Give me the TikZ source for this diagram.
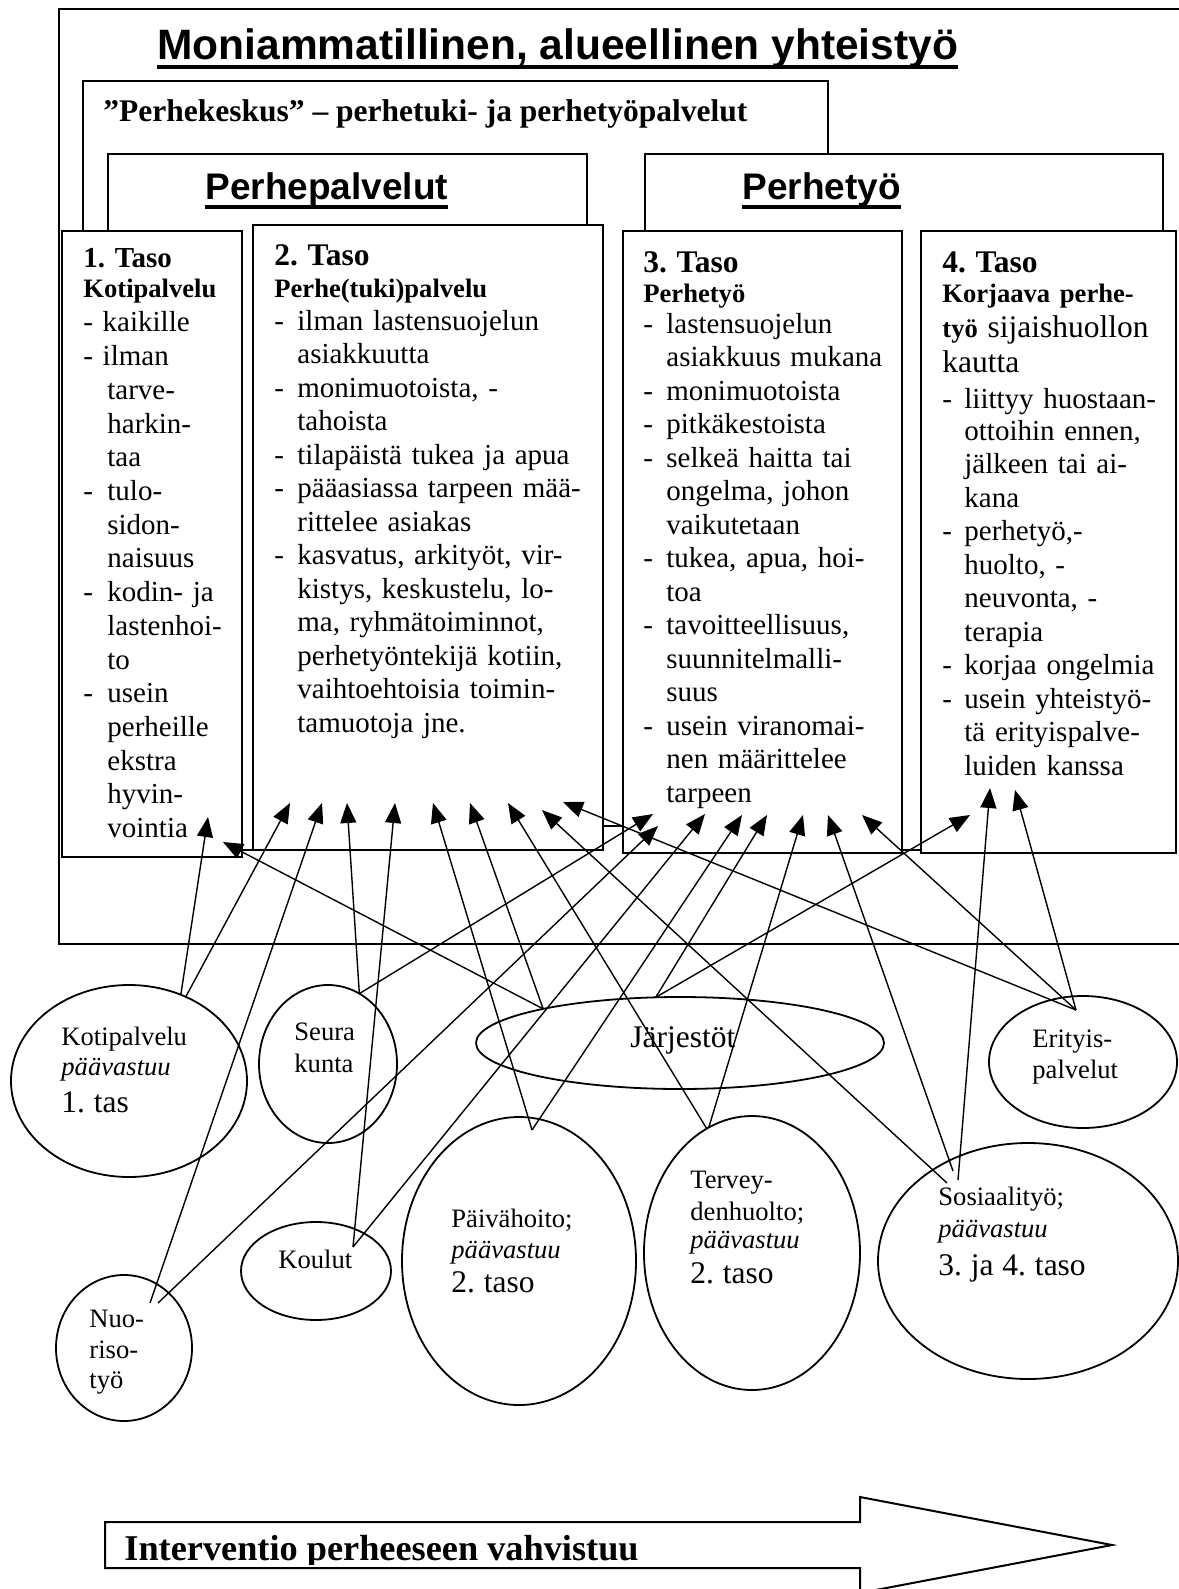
\documentclass[tikz,border=0pt]{standalone}
\usepackage{fontspec}
\setmainfont{Liberation Serif}
\newfontfamily\headfont{Liberation Sans}
\usetikzlibrary{positioning, fit, shapes.geometric, arrows.meta}
\newcommand{\fs}[2]{\fontsize{#1}{#2}\selectfont}
\newcommand{\dsh}[1]{\makebox[#1][l]{-}}
\frenchspacing

\begin{document}
\begin{tikzpicture}[
         x = 0.5pt, y = -0.5pt,
       box/.style = {rectangle, draw, fill=white, inner sep=0pt, line width=1pt},
       ell/.style = {ellipse, draw, fill=white, inner sep=0pt, outer sep=0pt, line width=0.9pt},
       txt/.style = {inner sep=0pt, anchor=base west, align=left, text width=#1},
       txt/.default = 100pt,
       lbl/.style = {inner sep=0pt, anchor=base west},
       arr/.style = {-{Triangle[length=10pt, width=8pt]}, line width=0.7pt}
                        ]
\useasboundingbox (0,0) rectangle (1178,1589);

\draw[line width=1pt] (59,9) rectangle (1200,944);
\node (title)[lbl, font=\headfont\bfseries\fs{21.25}{25}] at (157,60) {Moniammatillinen, alueellinen yhteistyö};
\draw[line width=1.8pt] ([yshift=-3.5pt]title.base west) -- ([yshift=-3.5pt]title.base east);

\node (keskusbox)[box, fit={(83,81) (828,826)}] {};
\node (keskus)[lbl, font=\bfseries\fs{15.75}{18}] at (103,122) {”Perhekeskus” – perhetuki- ja perhetyöpalvelut};

\node (palvbox)[box, fit={(108,154) (587,850)}] {};
\node (palv)[lbl, font=\headfont\bfseries\fs{18.5}{22}] at (205,200) {Perhepalvelut};
\draw[line width=1.6pt] ([yshift=-3.5pt]palv.base west) -- ([yshift=-3.5pt]palv.base east);

\node (tyobox)[box, fit={(645,154) (1163,850)}] {};
\node (tyo)[lbl, font=\headfont\bfseries\fs{18.5}{22}] at (742,200) {Perhetyö};
\draw[line width=1.6pt] ([yshift=-3.5pt]tyo.base west) -- ([yshift=-3.5pt]tyo.base east);

\node (taso1)[box, fit={(62,231) (242,857)}] {};
\node (taso2)[box, fit={(253,225) (603,850)}] {};
\node (taso3)[box, fit={(623,231) (902,853)}] {};
\node (taso4)[box, fit={(921,231) (1176,853)}] {};

\node (t1)[txt=85pt, font=\fs{14.5}{16.85}] at (83,268) {%
{\bfseries 1. Taso}\\[-1.85pt]
{\fs{13.3}{16}\bfseries Kotipalvelu}\\[0.15pt]
- kaikille\\
- ilman\\
\hspace*{12pt}tarve-\\
\hspace*{12pt}harkin-\\
\hspace*{12pt}taa\\
\dsh{12pt}tulo-\\
\hspace*{12pt}sidon-\\
\hspace*{12pt}naisuus\\
\dsh{12pt}kodin- ja\\
\hspace*{12pt}lastenhoi-\\
\hspace*{12pt}to\\
\dsh{12pt}usein\\
\hspace*{12pt}perheille\\
\hspace*{12pt}ekstra\\
\hspace*{12pt}hyvin-\\
\hspace*{12pt}vointia};

\node (t2)[txt=160pt, font=\fs{14.5}{16.75}] at (274,265) {%
{\fs{15.75}{16.75}\bfseries 2. Taso}\\[-0.75pt]
{\fs{13.3}{16}\bfseries Perhe(tuki)palvelu}\\[-0.25pt]
\dsh{11.5pt}ilman lastensuojelun\\
\hspace*{11.5pt}asiakkuutta\\
\dsh{11.5pt}monimuotoista, -\\
\hspace*{11.5pt}tahoista\\
\dsh{11.5pt}tilapäistä tukea ja apua\\
\dsh{11.5pt}pääasiassa tarpeen mää-\\
\hspace*{11.5pt}rittelee asiakas\\
\dsh{11.5pt}kasvatus, arkityöt, vir-\\
\hspace*{11.5pt}kistys, keskustelu, lo-\\
\hspace*{11.5pt}ma, ryhmätoiminnot,\\
\hspace*{11.5pt}perhetyöntekijä kotiin,\\
\hspace*{11.5pt}vaihtoehtoisia toimin-\\
\hspace*{11.5pt}tamuotoja jne.};

\node (t3)[txt=130pt, font=\fs{14.5}{16.75}] at (643,272) {%
{\fs{15.75}{16.75}\bfseries 3. Taso}\\[-1.75pt]
{\fs{13.3}{16}\bfseries Perhetyö}\\[-1.25pt]
\dsh{11.5pt}lastensuojelun\\
\hspace*{11.5pt}asiakkuus mukana\\
\dsh{11.5pt}monimuotoista\\
\dsh{11.5pt}pitkäkestoista\\
\dsh{11.5pt}selkeä haitta tai\\
\hspace*{11.5pt}ongelma, johon\\
\hspace*{11.5pt}vaikutetaan\\
\dsh{11.5pt}tukea, apua, hoi-\\
\hspace*{11.5pt}toa\\
\dsh{11.5pt}tavoitteellisuus,\\
\hspace*{11.5pt}suunnitelmalli-\\
\hspace*{11.5pt}suus\\
\dsh{11.5pt}usein viranomai-\\
\hspace*{11.5pt}nen määrittelee\\
\hspace*{11.5pt}tarpeen};

\node (t4)[txt=125pt, font=\fs{14.5}{16.75}] at (942,272) {%
{\fs{15.75}{16.75}\bfseries 4. Taso}\\[-1.75pt]
{\fs{13.3}{16}\bfseries Korjaava perhe-}\\[0.75pt]
{\fs{13.3}{16}\bfseries työ} {\fs{15.75}{16.75}sijaishuollon}\\[0.75pt]
{\fs{15.75}{16.75}kautta}\\[1.25pt]
\dsh{11pt}liittyy huostaan-\\[-0.75pt]
\hspace*{11pt}ottoihin ennen,\\
\hspace*{11pt}jälkeen tai ai-\\
\hspace*{11pt}kana\\
\dsh{11pt}perhetyö,-\\
\hspace*{11pt}huolto, -\\
\hspace*{11pt}neuvonta, -\\
\hspace*{11pt}terapia\\
\dsh{11pt}korjaa ongelmia\\
\dsh{11pt}usein yhteistyö-\\
\hspace*{11pt}tä erityispalve-\\
\hspace*{11pt}luiden kanssa};

\node (kp)[ell, minimum width=118pt, minimum height=96pt] at (129,1081) {};
\node (seura)[ell, minimum width=69pt, minimum height=79pt] at (328,1064) {};
\node (jarj)[ell, minimum width=204pt, minimum height=46pt] at (680,1043) {};
\node (erit)[ell, minimum width=94pt, minimum height=66pt] at (1083,1062) {};
\node (koulut)[ell, minimum width=75pt, minimum height=49pt] at (316,1271) {};
\node (nuor)[ell, minimum width=68pt, minimum height=73pt] at (124,1348) {};
\node (paiva)[ell, minimum width=117pt, minimum height=144pt] at (519,1261) {};
\node (terv)[ell, minimum width=108pt, minimum height=137pt] at (752,1253) {};
\node (sos)[ell, minimum width=150pt, minimum height=118pt] at (1028,1261) {};

\node (kpl)[txt=80pt, font=\fs{13.3}{15.5}] at (61,1045) {Kotipalvelu\\[-0.5pt] \textit{päävastuu}\\[3pt] {\fs{15.75}{17}1. tas}};
\node (seural)[txt=40pt, font=\fs{13.3}{15.5}] at (294,1040) {Seura\\[0.5pt] kunta};
\node (jarjl)[lbl, font=\fs{15.75}{17}] at (630,1047) {Järjestöt};
\node (eritl)[txt=60pt, font=\fs{13.3}{15.5}] at (1032,1047) {Erityis-\\ palvelut};
\node (koulutl)[lbl, font=\fs{13.3}{15.5}] at (278,1268) {Koulut};
\node (nuorl)[txt=40pt, font=\fs{13.3}{15.5}] at (89,1327) {Nuo-\\ riso-\\[-0.5pt] työ};
\node (paival)[txt=80pt, font=\fs{13.3}{15.5}] at (451,1227) {Päivähoito;\\ \textit{päävastuu}\\[1.5pt] {\fs{15.75}{17}2. taso}};
\node (tervl)[txt=80pt, font=\fs{13.3}{15.5}] at (690,1188) {Tervey-\\[0.5pt] denhuolto;\\[-1.5pt] \textit{päävastuu}\\[2pt] {\fs{15.75}{17}2. taso}};
\node (sosl)[txt=90pt, font=\fs{13.3}{15.5}] at (938,1205) {Sosiaalityö;\\[0.5pt] \textit{päävastuu}\\[3.5pt] {\fs{15.75}{17}3. ja 4. taso}};

\coordinate (e1a) at (208,817);
\coordinate (e1b) at (223,842);
\coordinate (e2a) at (290,803);
\coordinate (e2b) at (322,803);
\coordinate (e2c) at (347,803);
\coordinate (e2d) at (395,803);
\coordinate (e2e) at (433,803);
\coordinate (e2f) at (470,803);
\coordinate (e2g) at (508,803);
\coordinate (e2h) at (542,810);
\coordinate (e2i) at (563,802);
\coordinate (e3a) at (653,814);
\coordinate (e3b) at (658,826);
\coordinate (e3c) at (705,814);
\coordinate (e3d) at (742,815);
\coordinate (e3e) at (767,815);
\coordinate (e3f) at (803,815);
\coordinate (e3g) at (828,815);
\coordinate (e3h) at (862,815);
\coordinate (e4a) at (970,815);
\coordinate (e4b) at (990,788);
\coordinate (e4c) at (1015,790);

\draw[arr] (kp.59) -- (e1a);
\draw[arr] (kp.56) -- (e2a);
\draw[arr] (seura.66) -- (e2c);
\draw[arr] (seura.66) -- (e3a);
\draw[arr] ([shift={(26,-45)}]nuor.center) -- (e2b);
\draw[arr] ([shift={(34,-45)}]nuor.center) -- (e3b);
\draw[arr] ([shift={(37,-24)}]koulut.center) -- (e2d);
\draw[arr] ([shift={(37,-24)}]koulut.center) -- (e3c);
\draw[arr] ([shift={(13,-131)}]paiva.center) -- (e2e);
\draw[arr] ([shift={(13,-131)}]paiva.center) -- (e3d);
\draw[arr] (jarj.166) -- (e1b);
\draw[arr] (jarj.166) -- (e2f);
\draw[arr] (jarj.118) -- (e3e);
\draw[arr] (jarj.118) -- (e4a);
\draw[arr] (terv.110) -- (e2g);
\draw[arr] (terv.109) -- (e3f);
\draw[arr] ([shift={(-81,-78)}]sos.center) -- (e2h);
\draw[arr] ([shift={(-75,-90)}]sos.center) -- (e3g);
\draw[arr] ([shift={(-70,-81)}]sos.center) -- (e4b);
\draw[arr] ([shift={(-7,-52)}]erit.center) -- (e2i);
\draw[arr] ([shift={(-7,-52)}]erit.center) -- (e3h);
\draw[arr] ([shift={(-7,-52)}]erit.center) -- (e4c);

\draw[line width=1pt, fill=white] (105,1522) -- (860,1522) -- (860,1497) -- (1112,1545)
      -- (860,1593) -- (860,1568) -- (105,1568) -- cycle;
\begin{scope}
\clip (105,1522) rectangle (860,1564);
\node (interv)[lbl, font=\bfseries\fs{18.15}{20}] at (124,1560) {Interventio perheeseen vahvistuu};
\end{scope}
\end{tikzpicture}
\end{document}
